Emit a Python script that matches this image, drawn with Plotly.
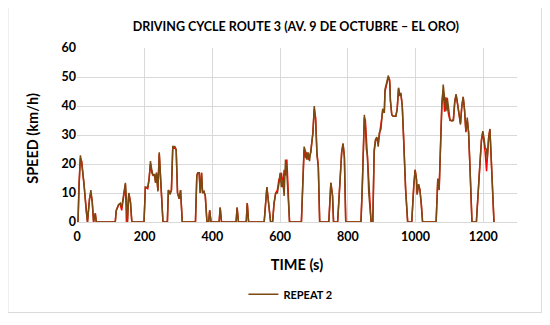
import plotly.graph_objects as go

# ---- data ----
time_s = (
    [0, 3, 6, 10, 14, 21, 27, 31, 37, 41, 45, 49, 54, 57]
    + [113, 116, 123, 128, 132, 136, 140, 143, 146, 149, 153, 158, 162]
    + [198, 202, 209, 213, 217, 221, 225, 229, 232, 235, 239, 243, 246, 250, 254]
    + [267, 270, 275, 279, 283, 289, 293, 297, 302, 306, 311]
    + [350, 354, 357, 361, 364, 368, 371, 375, 379, 384, 389, 392, 396]
    + [420, 423, 427, 470, 473, 477, 500, 503, 507, 553, 561, 567, 572]
    + [578, 582, 587, 592, 597, 600, 604, 608, 612, 616, 620, 624, 628]
    + [663, 667, 671, 676, 679, 683, 687, 691, 697, 701, 705, 709, 713, 717]
    + [744, 750, 755, 758, 770, 776, 782, 786, 790, 794]
    + [839, 843, 849, 852, 855, 858, 862, 869, 874, 878, 882, 886, 890, 893, 898, 903, 908,
       910, 916, 920, 924, 926, 930, 934, 942, 946, 950, 954, 957, 961, 965, 971, 977]
    + [989, 995, 999, 1003, 1005, 1009, 1013, 1017, 1021]
    + [1061, 1066, 1070, 1074, 1078, 1082, 1086, 1090, 1094, 1098, 1102, 1108, 1112, 1116,
       1120, 1125, 1129, 1133, 1137, 1141, 1145, 1149, 1153, 1157, 1161, 1167]
    + [1180, 1185, 1190, 1195, 1199, 1203, 1206, 1210, 1212, 1216, 1220, 1224, 1228, 1232]
)

repeat2_kmh = (
    [0, 0, 12, 23, 20, 13, 4, 0, 8, 11, 7, 0, 3, 0]
    + [0, 4, 6, 6.5, 5, 8, 10, 13.5, 8, 0, 10, 6.5, 0]
    + [0, 12, 12, 14.5, 21, 18, 16, 16.5, 13.5, 17, 10.5, 24, 18, 11, 0]
    + [0, 11, 9.5, 11, 26, 26, 25, 10, 8, 11, 0]
    + [0, 16, 17, 17, 10, 17, 10, 10.5, 9, 0, 0, 4, 0]
    + [0, 5, 0, 0, 5, 0, 0, 6.5, 0, 0, 12, 5.5, 0]
    + [0, 6.5, 10, 10, 13.5, 17, 12, 14.5, 9, 21.5, 17, 8, 0]
    + [0, 14.5, 26, 24, 21.5, 24, 21, 25, 30.5, 40, 35, 23, 19, 0]
    + [0, 13.5, 9, 0, 0, 12, 24, 27, 22.5, 0]
    + [0, 12, 37, 33, 25, 23, 10, 0, 0, 25, 28.5, 29.3, 26, 30.7, 32, 39, 37.6,
       45.7, 48.6, 50.5, 48, 41.7, 37, 36.5, 36.5, 38.8, 46.3, 43.4, 44.5, 40, 28.5, 11, 0]
    + [0, 12.4, 18, 14.7, 9.5, 13, 11.2, 6.5, 0]
    + [0, 14.7, 11.2, 28.5, 40, 47.4, 42.2, 38.2, 42.8, 37.6, 35.3, 34.8, 35.3, 41.7,
       44, 40.5, 36.5, 33.6, 40, 43.2, 38.8, 31.3, 36, 30.7, 19.3, 0]
    + [0, 12.4, 19.3, 28.5, 31.3, 28.5, 25.6, 25, 21.5, 28.5, 32.1, 21.5, 10, 0]
)

repeat1_kmh = (
    [0, 0, 13, 22, 21, 12, 5, 0, 8, 10, 7, 0, 3, 0]
    + [0, 4, 6, 6, 4, 8, 11, 13, 0, 0, 10, 7, 0]
    + [0, 12, 11.5, 15, 20, 17, 16, 16, 14, 17, 11, 23.5, 17, 11, 0]
    + [0, 11, 10, 11, 26, 25.5, 25, 10, 8, 11, 0]
    + [0, 16, 17, 17, 10, 17, 10, 10.5, 9, 0, 0, 4, 0]
    + [0, 5, 0, 0, 5, 0, 0, 6.5, 0, 0, 12, 5.5, 0]
    + [0, 6, 10, 11, 15, 14, 17, 12, 18, 16, 21.5, 9, 0]
    + [0, 15, 25, 22, 24, 21.5, 23, 24, 31, 39, 36, 24, 19, 0]
    + [0, 13.5, 9, 0, 0, 12, 24, 27, 22.5, 0]
    + [0, 13, 36, 35, 29, 22, 12, 0, 0, 24, 28, 29, 27, 30, 33, 38, 38,
       45, 48, 50, 49, 42, 37, 36.5, 36.5, 39, 46, 44, 44, 40, 29, 11, 0]
    + [0, 12.4, 18, 14.7, 9.5, 13, 11.2, 6.5, 0]
    + [0, 15, 11, 27, 41, 45.5, 38, 43, 39, 37, 35, 35, 35, 41,
       44, 40, 36.5, 34, 40, 43, 38.5, 31, 35, 31, 19, 0]
    + [0, 12, 19, 28, 31, 27, 24, 17.5, 21, 29, 32, 22, 10, 0]
)

x_ticks = [0, 200, 400, 600, 800, 1000, 1200]
y_ticks = [0, 10, 20, 30, 40, 50, 60]

assert len(time_s) == len(repeat2_kmh) == len(repeat1_kmh)

FONT = "Lato"

fig = go.Figure()
fig.add_trace(go.Scatter(x=time_s, y=repeat1_kmh, mode="lines", name="REPEAT 1",
                         line=dict(color="#FF0000", width=1.5), showlegend=False))
fig.add_trace(go.Scatter(x=time_s, y=repeat2_kmh, mode="lines", name="REPEAT 2",
                         line=dict(color="#7B4A12", width=1.5)))

fig.update_layout(
    width=542, height=317,
    margin=dict(l=69, r=33, t=40, b=102.5),
    paper_bgcolor="white", plot_bgcolor="white",
    font=dict(family=FONT, color="#000000"),
    title=dict(text="DRIVING CYCLE ROUTE 3 (AV. 9 DE OCTUBRE – EL ORO)",
               x=0.531, xanchor="center", y=0.94, yanchor="middle",
               font=dict(size=12.5, family=FONT, weight="bold", color="#000000")),
    legend=dict(orientation="h", x=0.485, xanchor="center", y=-0.415, yanchor="middle",
                font=dict(size=11, family=FONT, weight="bold"), bgcolor="rgba(0,0,0,0)"),
    xaxis=dict(range=[0, 1300], tickvals=x_ticks, showgrid=True, gridcolor="#D9D9D9",
               gridwidth=1, zeroline=False, showline=True, linecolor="#D9D9D9",
               tickfont=dict(size=12.5, family=FONT, weight="bold"), ticks="outside",
               ticklen=3, tickcolor="rgba(0,0,0,0)",
               title=dict(text="TIME (s)", standoff=16,
                          font=dict(size=14.5, family=FONT, weight="bold"))),
    yaxis=dict(range=[0, 60], tickvals=y_ticks, showgrid=True, gridcolor="#D9D9D9",
               gridwidth=1, zeroline=False, showline=False, ticks="",
               tickfont=dict(size=12.5, family=FONT, weight="bold")),
    annotations=[dict(text="SPEED (km/h)", xref="paper", yref="paper", x=-0.1, y=0.478,
                      xanchor="center", yanchor="middle", textangle=-90, showarrow=False,
                      font=dict(size=14.5, family=FONT, weight="bold", color="#000000"))],
    shapes=[dict(type="rect", xref="paper", yref="paper", x0=-0.157, x1=1.056,
                 y0=-0.52, y1=1.233, line=dict(color="#D9D9D9", width=1),
                 fillcolor="rgba(0,0,0,0)", layer="below")],
)

fig.write_html("out.html")
